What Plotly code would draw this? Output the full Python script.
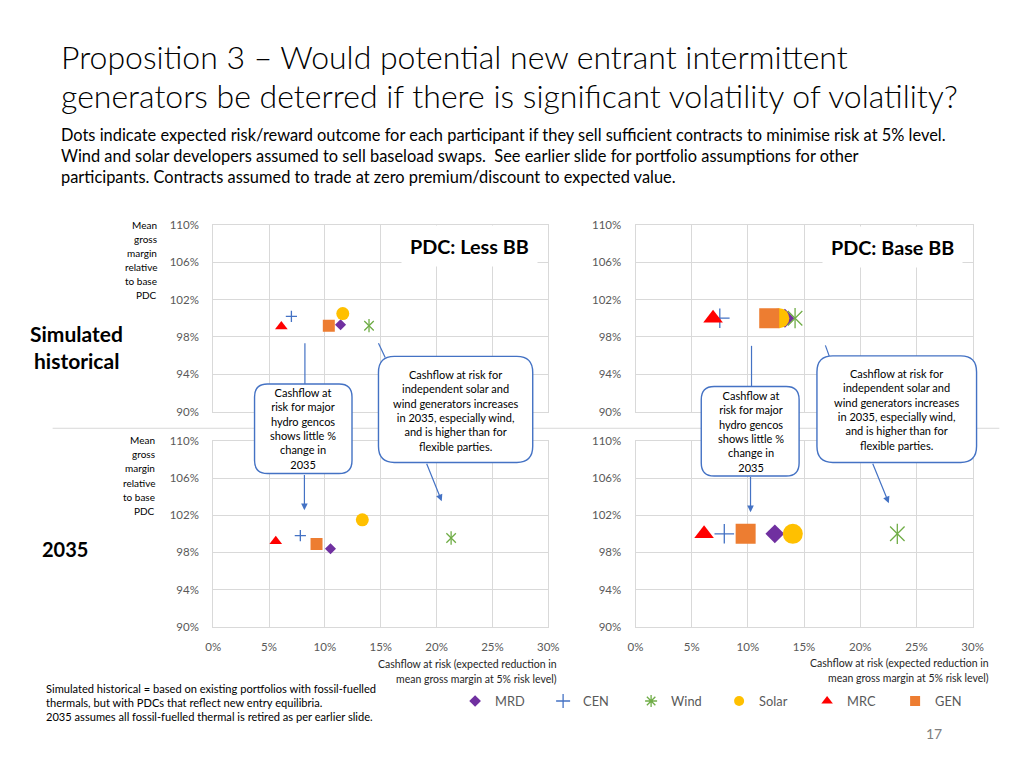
import plotly.graph_objects as go

W, H = 1024, 768
FONT = "Lato"

# ---------------- data ----------------
series = ["MRD", "CEN", "Wind", "Solar", "MRC", "GEN"]
colors = ["#7030A0", "#4472C4", "#70AD47", "#FFC000", "#FF0000", "#ED7D31"]

# Cashflow at risk (%) and mean gross margin relative to base PDC (%)
hist_less_x = [11.4, 7.0, 13.95, 11.6, 6.1, 10.35]
hist_less_y = [99.3, 100.2, 99.2, 100.5, 99.1, 99.2]
hist_base_x = [13.3, 7.5, 14.2, 12.8, 6.9, 11.9]
hist_base_y = [100.0, 100.0, 100.0, 100.0, 100.0, 100.0]
f35_less_x = [10.5, 7.8, 21.3, 13.35, 5.6, 9.25]
f35_less_y = [98.4, 99.8, 99.55, 101.5, 99.2, 98.9]
f35_base_x = [12.4, 7.9, 23.3, 14.0, 6.1, 9.8]
f35_base_y = [100.0, 100.0, 100.0, 100.0, 100.0, 100.0]

x_ticks = [0, 5, 10, 15, 20, 25, 30]
x_tick_labels = ["0%", "5%", "10%", "15%", "20%", "25%", "30%"]
y_ticks = [90, 94, 98, 102, 106, 110]
y_tick_labels = ["90%", "94%", "98%", "102%", "106%", "110%"]

title_lines = ["Proposition 3 \u2013 Would potential new entrant intermittent",
               "generators be deterred if there is significant volatility of volatility?"]
sub_lines = ["Dots indicate expected risk/reward outcome for each participant if they sell sufficient contracts to minimise risk at 5% level.",
             "Wind and solar developers assumed to sell baseload swaps.  See earlier slide for portfolio assumptions for other",
             "participants. Contracts assumed to trade at zero premium/discount to expected value."]
ylab_lines = ["Mean", "gross", "margin", "relative", "to base", "PDC"]
xlab_lines = ["Cashflow at risk (expected reduction in", "mean gross margin at 5% risk level)"]
foot_lines = ["Simulated historical = based on existing portfolios with fossil-fuelled",
              "thermals, but with PDCs that reflect new entry equilibria.",
              "2035 assumes all fossil-fuelled thermal is retired as per earlier slide."]
hydro_text = "Cashflow at<br>risk for major<br>hydro gencos<br>shows little %<br>change in<br>2035"
solar_text = ("Cashflow at risk for<br>independent solar and<br>wind generators increases<br>"
              "in 2035, especially wind,<br>and is higher than for<br>flexible parties.")

# ---------------- helpers: target picture pixel -> paper ----------------
# (compensates the small scale/offset seen between the page and its photograph)
AX, BX = 0.99, 3.0
AY, BY = 0.978, 8.4

def PX(px):
    return (px - BX) / AX

def PY(py):
    return (py - BY) / AY

def X(px):
    return PX(px) / W

def Y(py):
    return 1 - PY(py) / H

fig = go.Figure()

panels = [("x", "y", hist_less_x, hist_less_y, False),
          ("x2", "y2", hist_base_x, hist_base_y, True),
          ("x3", "y3", f35_less_x, f35_less_y, False),
          ("x4", "y4", f35_base_x, f35_base_y, True)]

sym = {"MRD": "diamond", "CEN": "cross-thin-open", "Wind": "x-thin-open",
       "Solar": "circle", "MRC": "triangle-up", "GEN": "square"}
size_small = {"MRD": 8.5, "CEN": 8, "Wind": 9.5, "Solar": 13, "MRC": 11, "GEN": 12}
size_big = {"MRD": 14.5, "CEN": 14, "Wind": 14.5, "Solar": 20, "MRC": 17, "GEN": 20}

for xa, ya, xs, ys, big in panels:
    sz = size_big if big else size_small
    for i, name in enumerate(series):
        open_sym = name in ("CEN", "Wind")
        marker = dict(symbol=sym[name], size=sz[name], color=colors[i])
        if open_sym:
            marker["line"] = dict(color=colors[i], width=1.3)
        else:
            marker["line"] = dict(width=0)
        fig.add_trace(go.Scatter(x=[xs[i]], y=[ys[i]], mode="markers", marker=marker,
                                 xaxis=xa, yaxis=ya, showlegend=False,
                                 legendgroup=name, hoverinfo="x+y+name", name=name))
        if name == "Wind":
            fig.add_trace(go.Scatter(x=[xs[i]], y=[ys[i]], mode="markers",
                                     marker=dict(symbol="line-ns-open", size=sz[name],
                                                 color=colors[i],
                                                 line=dict(color=colors[i], width=1.3)),
                                     xaxis=xa, yaxis=ya, showlegend=False,
                                     legendgroup=name, hoverinfo="skip", name=name))

# legend entries
leg_sym = {"MRD": "diamond", "CEN": "cross-thin-open", "Wind": "asterisk-open",
           "Solar": "circle", "MRC": "triangle-up", "GEN": "square"}
leg_size = {"MRD": 9, "CEN": 10, "Wind": 10, "Solar": 10, "MRC": 10, "GEN": 10}
for i, name in enumerate(series):
    m = dict(symbol=leg_sym[name], size=leg_size[name], color=colors[i])
    if name in ("CEN", "Wind"):
        m["line"] = dict(color=colors[i], width=1.3)
    fig.add_trace(go.Scatter(x=[None], y=[None], mode="markers", marker=m,
                             name=name, legendgroup=name, showlegend=True,
                             xaxis="x", yaxis="y"))

# ---------------- axes ----------------
GRID = "#D9D9D9"
TICKC = "#595959"
xl, xr = X(210), X(548)
xl2, xr2 = X(636), X(976)
yt_top, yt_bot = Y(411), Y(225)
yb_top, yb_bot = Y(625), Y(440)

def xaxis(dom, show, anchor):
    return dict(domain=dom, range=[0, 30], tickmode="array", tickvals=x_ticks,
                ticktext=x_tick_labels,
                showgrid=True, gridcolor=GRID, gridwidth=1, zeroline=False,
                showline=True, linecolor=GRID, linewidth=1, mirror=True,
                showticklabels=show, ticks="", ticklabelstandoff=9,
                tickfont=dict(family=FONT, size=11.5, color=TICKC), anchor=anchor,
                fixedrange=True)

def yaxis(dom, anchor):
    return dict(domain=dom, range=[90, 110], tickmode="array", tickvals=y_ticks,
                ticktext=y_tick_labels,
                showgrid=True, gridcolor=GRID, gridwidth=1, zeroline=False,
                showline=True, linecolor=GRID, linewidth=1, mirror=True,
                ticks="", ticklabelstandoff=11,
                tickfont=dict(family=FONT, size=11.5, color=TICKC), anchor=anchor,
                fixedrange=True)

fig.update_layout(
    xaxis=xaxis([xl, xr], False, "y"), yaxis=yaxis([yt_top, yt_bot], "x"),
    xaxis2=xaxis([xl2, xr2], False, "y2"), yaxis2=yaxis([yt_top, yt_bot], "x2"),
    xaxis3=xaxis([xl, xr], True, "y3"), yaxis3=yaxis([yb_top, yb_bot], "x3"),
    xaxis4=xaxis([xl2, xr2], True, "y4"), yaxis4=yaxis([yb_top, yb_bot], "x4"),
)

# ---------------- annotations ----------------
ann = []

def txt(text, px, py, size, xanchor="left", color="#000000", bold=False, weight=None,
        align="left", **kw):
    f = dict(family=FONT, size=size, color=color)
    if bold:
        f["weight"] = 700
    if weight:
        f["weight"] = weight
    d = dict(text=text, x=X(px), y=Y(py), xref="paper", yref="paper", showarrow=False,
             xanchor=xanchor, yanchor="middle", align=align, font=f)
    d.update(kw)
    ann.append(d)

# title
txt(title_lines[0], 54, 58, 32, weight=300)
txt(title_lines[1], 54, 96, 32, weight=300)
for i, s in enumerate(sub_lines):
    txt(s, 54, 135 + 21 * i, 16.4)

# y-axis labels
for i, s in enumerate(ylab_lines):
    txt(s, 155, 225 + 14 * i, 10, xanchor="right")
    txt(s, 153, 439.5 + 14 * i, 10, xanchor="right")

# row labels
txt("Simulated", 72, 333, 21, xanchor="center", bold=True)
txt("historical", 72, 360, 21, xanchor="center", bold=True)
txt("2035", 60, 548, 20, xanchor="center", bold=True)

# panel titles
txt("PDC: Less BB", 469, 246, 19.8, xanchor="center", bold=True, bgcolor="#FFFFFF", borderpad=8)
txt("PDC: Base BB", 895, 247, 19.8, xanchor="center", bold=True, bgcolor="#FFFFFF", borderpad=8)

# x-axis titles
for i, s in enumerate(xlab_lines):
    txt(s, 559, 662 + 15 * i, 10.5, xanchor="right", color="#262626")
    txt(s, 995, 661 + 15 * i, 10.5, xanchor="right", color="#262626")

# footnote
for i, s in enumerate(foot_lines):
    txt(s, 39, 686 + 14 * i, 11.1)

# page number
txt("17", 937, 731, 14, xanchor="center", color="#7F7F7F")

# callout texts
BLUE = "#4472C4"
txt(hydro_text, 301, 428, 11, xanchor="center", align="center")
txt(solar_text, 454.5, 409.5, 11, xanchor="center", align="center")
txt(hydro_text, 752, 431, 11, xanchor="center", align="center")
txt(solar_text, 899, 408.5, 11, xanchor="center", align="center")

# arrows (tip px, start px)
def arrow(tx, ty, sx, sy):
    ann.append(dict(x=X(tx), y=Y(ty), xref="paper", yref="paper",
                    ax=PX(sx) - PX(tx), ay=PY(sy) - PY(ty),
                    axref="pixel", ayref="pixel", text="", showarrow=True, arrowhead=2,
                    arrowsize=1.1, arrowwidth=1.2, arrowcolor=BLUE, standoff=0))

arrow(302, 509, 302, 473)
arrow(440.5, 500, 425, 462)
arrow(752, 511, 752, 475)
arrow(891.5, 502, 875, 462)

# ---------------- shapes ----------------
shapes = []

def rrect(x0, y0, x1, y1, r):
    pts = [("M", x0 + r, y0), ("L", x1 - r, y0), ("Q", x1, y0, x1, y0 + r),
           ("L", x1, y1 - r), ("Q", x1, y1, x1 - r, y1), ("L", x0 + r, y1),
           ("Q", x0, y1, x0, y1 - r), ("L", x0, y0 + r), ("Q", x0, y0, x0 + r, y0)]
    path = ""
    for p in pts:
        cmd = p[0]
        coords = p[1:]
        s = []
        for j in range(0, len(coords), 2):
            s.append(f"{X(coords[j]):.5f},{Y(coords[j + 1]):.5f}")
        path += cmd + " ".join(s) + " "
    path += "Z"
    shapes.append(dict(type="path", path=path, xref="paper", yref="paper",
                       line=dict(color=BLUE, width=1.4), fillcolor="#FFFFFF", layer="above"))

def line(x0, y0, x1, y1, color=BLUE, width=1.2):
    shapes.append(dict(type="line", x0=X(x0), y0=Y(y0), x1=X(x1), y1=Y(y1),
                       xref="paper", yref="paper", line=dict(color=color, width=width)))

# separator
line(48, 427.5, 1003, 427.5, color=GRID, width=1)
# leader lines
line(302.5, 343, 302.5, 384)
line(376.7, 343, 383.5, 357)
line(753, 345.5, 753, 386)
line(827.5, 345, 831.5, 356)
# callout boxes
rrect(251.7, 383.5, 350, 472.5, 13)
rrect(376.7, 356, 532.3, 461.5, 16)
rrect(702.3, 386, 801, 475, 13)
rrect(819, 355.5, 980, 461.5, 16)

fig.update_layout(
    width=W, height=H, margin=dict(l=0, r=0, t=0, b=0),
    paper_bgcolor="#FFFFFF", plot_bgcolor="#FFFFFF",
    font=dict(family=FONT, color="#000000"),
    annotations=ann, shapes=shapes,
    legend=dict(orientation="h", x=X(454), xanchor="left", y=Y(699), yanchor="middle",
                font=dict(family=FONT, size=12.8, color=TICKC), bgcolor="rgba(0,0,0,0)",
                entrywidth=43, entrywidthmode="pixels", itemwidth=30, tracegroupgap=0),
    showlegend=True,
)

# remove the default page margin so the 1024x768 figure fills the window exactly
fig.write_html("out.html", config={"displayModeBar": False},
               post_script="document.body.style.margin='0px';"
                           "document.body.style.padding='0px';"
                           "document.documentElement.style.overflow='hidden';")
